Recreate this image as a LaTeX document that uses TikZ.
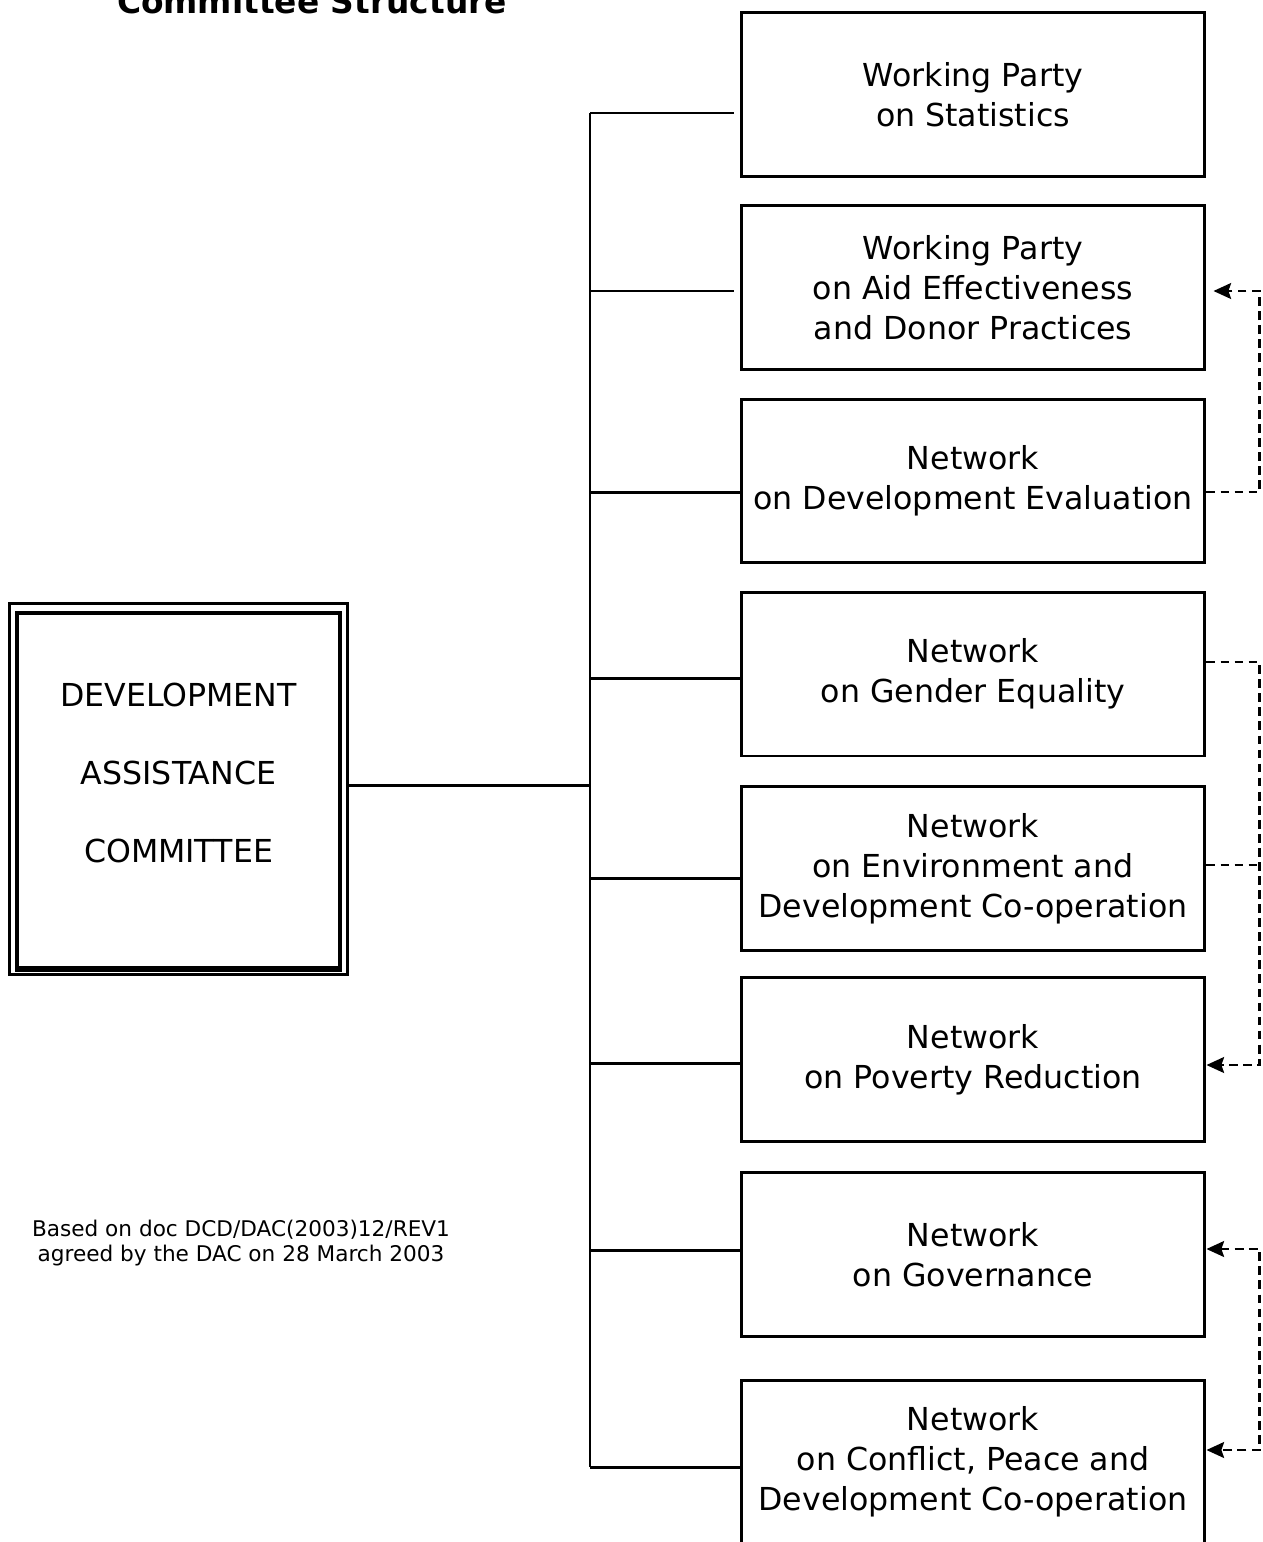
\documentclass[tikz,border=0pt]{standalone}
\usepackage{fontspec}
\setmainfont{DejaVu Sans}
\usepackage{tikz}
\usetikzlibrary{arrows,arrows.meta,shapes,positioning}
\usepackage{xcolor}
\definecolor{dcline}{RGB}{0,0,0}
\tikzstyle{unit} = [rectangle, minimum width=9.28cm, minimum height=3.28cm, text centered, align=center, draw=dcline, line width=1.7pt, font=\fontsize{18}{22.7}\selectfont]
\tikzstyle{committee} = [rectangle, minimum width=6.46cm, minimum height=7.1cm, text centered, align=center, draw=dcline, line width=1.9pt, text depth=20pt, font=\fontsize{18}{44.5}\selectfont]
\tikzstyle{bus} = [line width=1.7pt, color=dcline]
\tikzstyle{link} = [line width=1.5pt, dash pattern=on 5pt off 3pt, color=dcline]
\tikzstyle{tip} = [>={Stealth[length=10pt, width=9pt, inset=1.5pt, sep=0pt]}]

\begin{document}
\begin{tikzpicture}[x=0.02cm, y=-0.02cm]
\useasboundingbox (0,0) rectangle (1263,1542);

% Title and note
\node[anchor=base, font=\bfseries\fontsize{18.7}{22}\selectfont] (title) at (312,13) {Committee Structure};
\node[align=center, font=\fontsize{12.3}{14.2}\selectfont] (note) at (241,1243) {Based on doc DCD/DAC(2003)12/REV1\\agreed by the DAC on 28 March 2003};

% Committee
\node[committee] (dac) at (178.5,790.5) {DEVELOPMENT\\ASSISTANCE\\COMMITTEE};
\draw[line width=1.4pt] ([shift={(-6,-8)}]dac.north west) rectangle ([shift={(6,5)}]dac.south east);
\draw[line width=3pt] (dac.south west) -- (dac.south east);

% Working parties and networks
\node[unit] (stats) at (973,94.5) {Working Party\\on Statistics};
\node[unit] (aid) at (973,287.5) {Working Party\\on Aid Effectiveness\\and Donor Practices};
\node[unit] (eval) at (973,481) {Network\\on Development Evaluation};
\node[unit] (gender) at (973,674) {Network\\on Gender Equality};
\node[unit] (env) at (973,868.5) {Network\\on Environment and\\Development Co-operation};
\node[unit] (poverty) at (973,1059.5) {Network\\on Poverty Reduction};
\node[unit] (gov) at (973,1254.5) {Network\\on Governance};
\node[unit] (conflict) at (973,1462) {Network\\on Conflict, Peace and\\Development Co-operation};

% Bus
\coordinate (bustop) at (590,113);
\coordinate (busend) at (590,1467);
\coordinate (hub) at (590,785);
\draw[bus] (bustop) -- (busend);
\draw[bus] ([xshift=3.5pt]dac.east |- hub) -- (hub);
\draw[bus, shorten >=3pt] (bustop) -- (stats.west |- bustop);
\draw[line width=0.9pt, shorten >=3pt] (590,291) -- (aid.west |- 0,291);
\draw[bus] (590,492) -- (eval.west |- 0,492);
\draw[bus] (590,678) -- (gender.west |- 0,678);
\draw[bus] (590,878) -- (env.west |- 0,878);
\draw[bus] (590,1063) -- (poverty.west |- 0,1063);
\draw[bus] (590,1250) -- (gov.west |- 0,1250);
\draw[bus] (busend) -- (conflict.west |- busend);

% Dashed links
\draw[link, tip, ->, shorten >=4pt] (eval.east |- 0,492) -- ++(53,0) |- (aid.east |- 0,291);
\draw[link, tip, ->] (gender.east |- 0,662) -- ++(53,0) |- (poverty.east |- 0,1065);
\draw[link] (env.east |- 0,865) -- ++(53,0);
\draw[link, tip, <->] (gov.east |- 0,1249) -- ++(53,0) |- (conflict.east |- 0,1450);
\end{tikzpicture}
\end{document}
